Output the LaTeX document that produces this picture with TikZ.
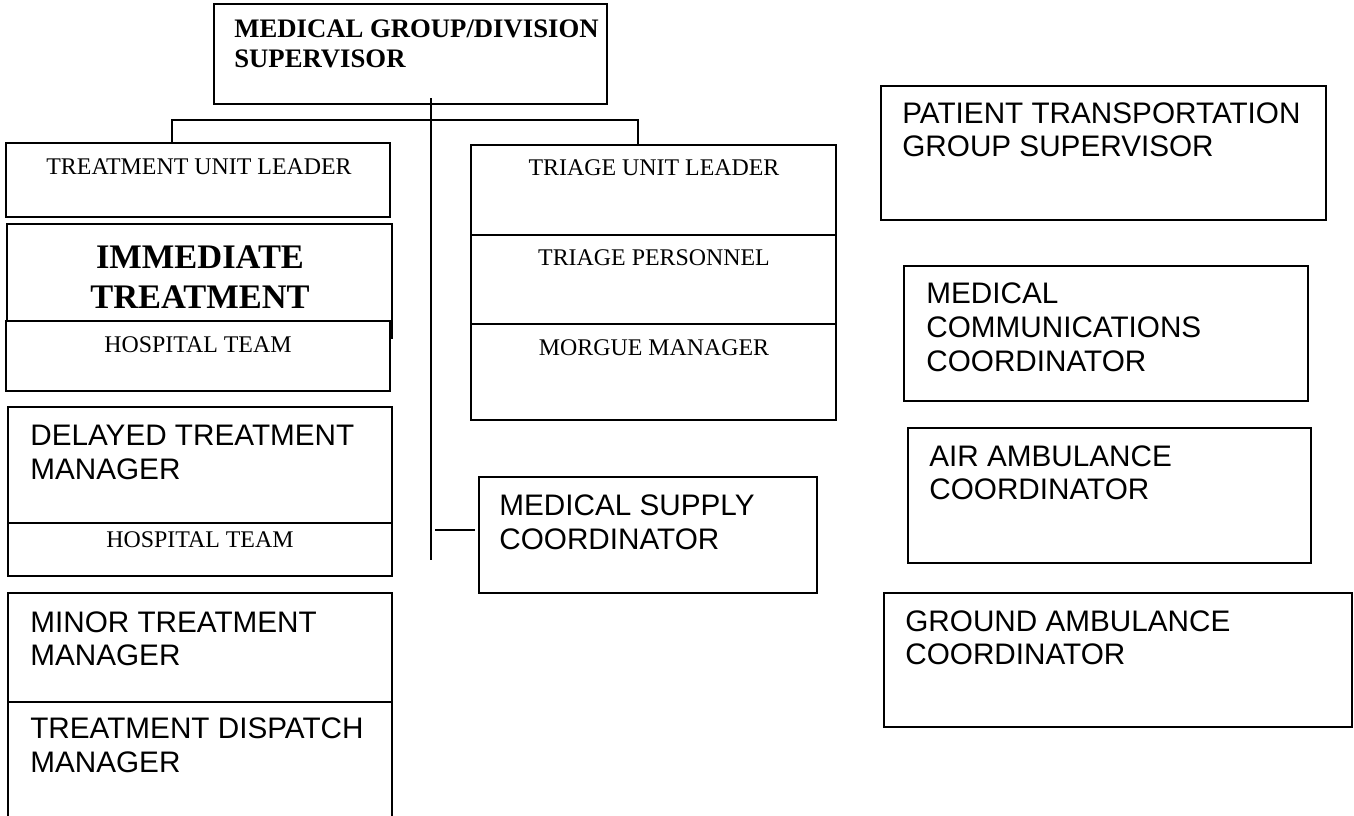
\documentclass[tikz,border=0pt]{standalone}
\usepackage{fontspec}
\setmainfont{Liberation Serif}
\setsansfont{Liberation Sans}
\begin{document}
\begin{tikzpicture}[x=0.02cm,y=-0.02cm,
  box/.style={draw=black,line width=0.85pt,fill=white,inner sep=0pt,outer sep=0pt,rectangle},
  conn/.style={draw=black,line width=0.85pt},
  sanslbl/.style={inner sep=0pt,anchor=base west,font=\sffamily\fontsize{16.9}{19.5}\selectfont},
  serlbl/.style={inner sep=0pt,anchor=base,font=\rmfamily\fontsize{13.6}{16}\selectfont},
  toplbl/.style={inner sep=0pt,anchor=base west,font=\rmfamily\bfseries\fontsize{15.2}{17}\selectfont},
  biglbl/.style={inner sep=0pt,anchor=base,font=\rmfamily\bfseries\fontsize{19.6}{22}\selectfont}]
\newcommand{\ubox}[6][]{\node[box,#1,minimum width={(#5-#3)*0.02cm},minimum height={(#6-#4)*0.02cm}] (#2) at ({(#3+#5)/2},{(#4+#6)/2}) {};}
\clip (0,0) rectangle (1354,815);
\fill[white] (0,0) rectangle (1354,815);
% top supervisor
\ubox{top}{214}{4}{607}{104}
\node[toplbl] (top1) at (234,37) {MEDICAL GROUP/DIVISION};
\node[toplbl] (top2) at (234,67) {SUPERVISOR};
% treatment unit leader column
\ubox{tul}{6}{143}{390}{217}
\node[serlbl] (tult) at (199,174) {TREATMENT UNIT LEADER};
\ubox{imm}{7}{224}{392}{338}
\node[biglbl] (imm1) at (200,268) {IMMEDIATE};
\node[biglbl] (imm2) at (200,308) {TREATMENT};
\ubox{hosp1}{6}{321}{390}{391}
\node[serlbl] (hosp1t) at (198,352) {HOSPITAL TEAM};
\ubox{del}{8}{407}{392}{523}
\node[sanslbl] (del1) at (30,445) {DELAYED TREATMENT};
\node[sanslbl] (del2) at (30,479) {MANAGER};
\ubox{hosp2}{8}{523}{392}{576}
\node[serlbl] (hosp2t) at (200,547) {HOSPITAL TEAM};
\ubox{minor}{8}{593}{392}{702}
\node[sanslbl] (min1) at (30,632) {MINOR TREATMENT};
\node[sanslbl] (min2) at (30,665) {MANAGER};
\ubox{disp}{8}{702}{392}{840}
\node[sanslbl] (disp1) at (30,738) {TREATMENT DISPATCH};
\node[sanslbl] (disp2) at (30,772) {MANAGER};
% triage column
\ubox{tri}{471}{145}{836}{235}
\node[serlbl] (trit) at (654,175) {TRIAGE UNIT LEADER};
\ubox{pers}{471}{235}{836}{324}
\node[serlbl] (perst) at (654,265) {TRIAGE PERSONNEL};
\ubox{morg}{471}{324}{836}{420}
\node[serlbl] (morgt) at (654,355) {MORGUE MANAGER};
% medical supply
\ubox{supply}{479}{477}{817}{593}
\node[sanslbl] (sup1) at (499,515) {MEDICAL SUPPLY};
\node[sanslbl] (sup2) at (499,549) {COORDINATOR};
% right column
\ubox{ptgs}{881}{86}{1326}{220}
\node[sanslbl] (ptgs1) at (902,123) {PATIENT TRANSPORTATION};
\node[sanslbl] (ptgs2) at (902,156) {GROUP SUPERVISOR};
\ubox{mcc}{904}{266}{1308}{401}
\node[sanslbl] (mcc1) at (926,303) {MEDICAL};
\node[sanslbl] (mcc2) at (926,337) {COMMUNICATIONS};
\node[sanslbl] (mcc3) at (926,371) {COORDINATOR};
\ubox{air}{908}{428}{1311}{563}
\node[sanslbl] (air1) at (929,466) {AIR AMBULANCE};
\node[sanslbl] (air2) at (929,499) {COORDINATOR};
\ubox{gnd}{884}{593}{1352}{727}
\node[sanslbl] (gnd1) at (905,631) {GROUND AMBULANCE};
\node[sanslbl] (gnd2) at (905,664) {COORDINATOR};
% connectors
\coordinate (trunkTop) at (431,98);
\coordinate (trunkBot) at (431,560);
\coordinate (barL) at (172,120);
\coordinate (barR) at (638,120);
\coordinate (supL) at (435,530);
\coordinate (supR) at (475,530);
\draw[conn] (trunkTop) -- (trunkBot);
\draw[conn] (tul.north -| barL) -- (barL) -- (barR) -- (tri.north -| barR);
\draw[conn] (supL) -- (supR);
\end{tikzpicture}
\end{document}
